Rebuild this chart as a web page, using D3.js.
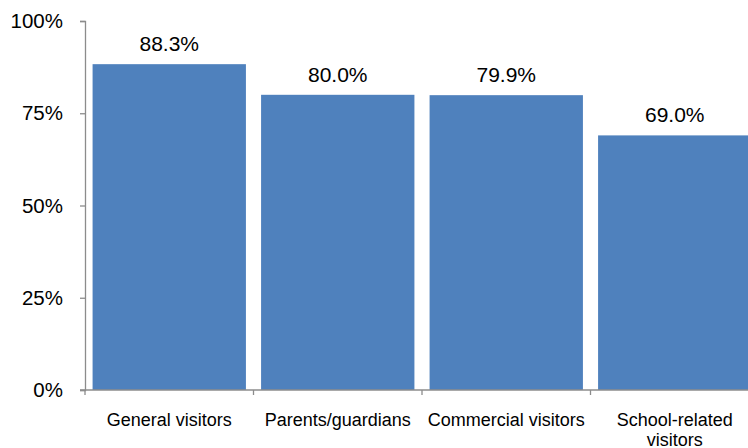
<!DOCTYPE html>
<html>
<head>
<meta charset="utf-8">
<script src="https://cdn.jsdelivr.net/npm/d3@7"></script>
<style>
  html, body { margin: 0; padding: 0; background: #fff; }
  svg { display: block; }
  text { font-family: "Liberation Sans", Arial, sans-serif; fill: #000; }
</style>
</head>
<body>
<svg id="chart" width="748" height="448"></svg>
<script>
// Share of visitors, by visitor type
const categories = ["General visitors", "Parents/guardians", "Commercial visitors", "School-related visitors"];
const values = [88.3, 80.0, 79.9, 69.0];
const yTicks = [0, 25, 50, 75, 100];

const svg = d3.select("#chart");
const x0 = 85, x1 = 759, yTop = 21, yBottom = 390;

const x = d3.scaleBand()
  .domain(categories)
  .range([x0, x1])
  .paddingInner(0.09)
  .paddingOuter(0.045);

const y = d3.scaleLinear().domain([0, 100]).range([yBottom, yTop]);

const axisColor = "#8c8c8c";

// Bars
svg.append("g").selectAll("rect")
  .data(values)
  .join("rect")
  .attr("x", (d, i) => x(categories[i]))
  .attr("y", d => y(d))
  .attr("width", x.bandwidth())
  .attr("height", d => y(0) - y(d))
  .attr("fill", "#4F81BD");

// Value labels
svg.append("g").selectAll("text")
  .data(values)
  .join("text")
  .attr("x", (d, i) => x(categories[i]) + x.bandwidth() / 2)
  .attr("y", d => y(d) - 13)
  .attr("text-anchor", "middle")
  .attr("font-size", 21)
  .text(d => d.toFixed(1) + "%");

// Y axis
const yAxis = svg.append("g")
  .attr("transform", `translate(${x0},0)`)
  .call(d3.axisLeft(y).tickValues(yTicks).tickFormat(d => d + "%").tickSize(5).tickPadding(17));
yAxis.select(".domain").attr("stroke", axisColor).attr("stroke-width", 1.3);
yAxis.selectAll(".tick line").attr("stroke", axisColor).attr("stroke-width", 1.3);
yAxis.selectAll(".tick text")
  .attr("font-size", 20.5)
  .attr("font-family", "'Liberation Sans', Arial, sans-serif")
  .attr("fill", "#000");

// X axis baseline with category boundary ticks
const xg = svg.append("g");
xg.append("line")
  .attr("x1", x0 - 5).attr("x2", 748)
  .attr("y1", y(0)).attr("y2", y(0))
  .attr("stroke", axisColor).attr("stroke-width", 1.3);
const boundaries = categories.map(c => x(c) - x.step() * x.paddingInner() / 2);
boundaries[0] = x0;
xg.selectAll("line.tick")
  .data(boundaries)
  .join("line")
  .attr("class", "tick")
  .attr("x1", d => d).attr("x2", d => d)
  .attr("y1", y(0)).attr("y2", y(0) + 5)
  .attr("stroke", axisColor).attr("stroke-width", 1.3);

// Category labels (wrapped when too wide), one text element per line
const labelLines = {
  "School-related visitors": ["School-related", "visitors"]
};
categories.forEach(c => {
  const lines = labelLines[c] || [c];
  lines.forEach((l, i) => {
    xg.append("text")
      .attr("x", x(c) + x.bandwidth() / 2)
      .attr("y", 426 + i * 19.5)
      .attr("text-anchor", "middle")
      .attr("font-size", 18)
      .text(l);
  });
});
</script>
</body>
</html>
